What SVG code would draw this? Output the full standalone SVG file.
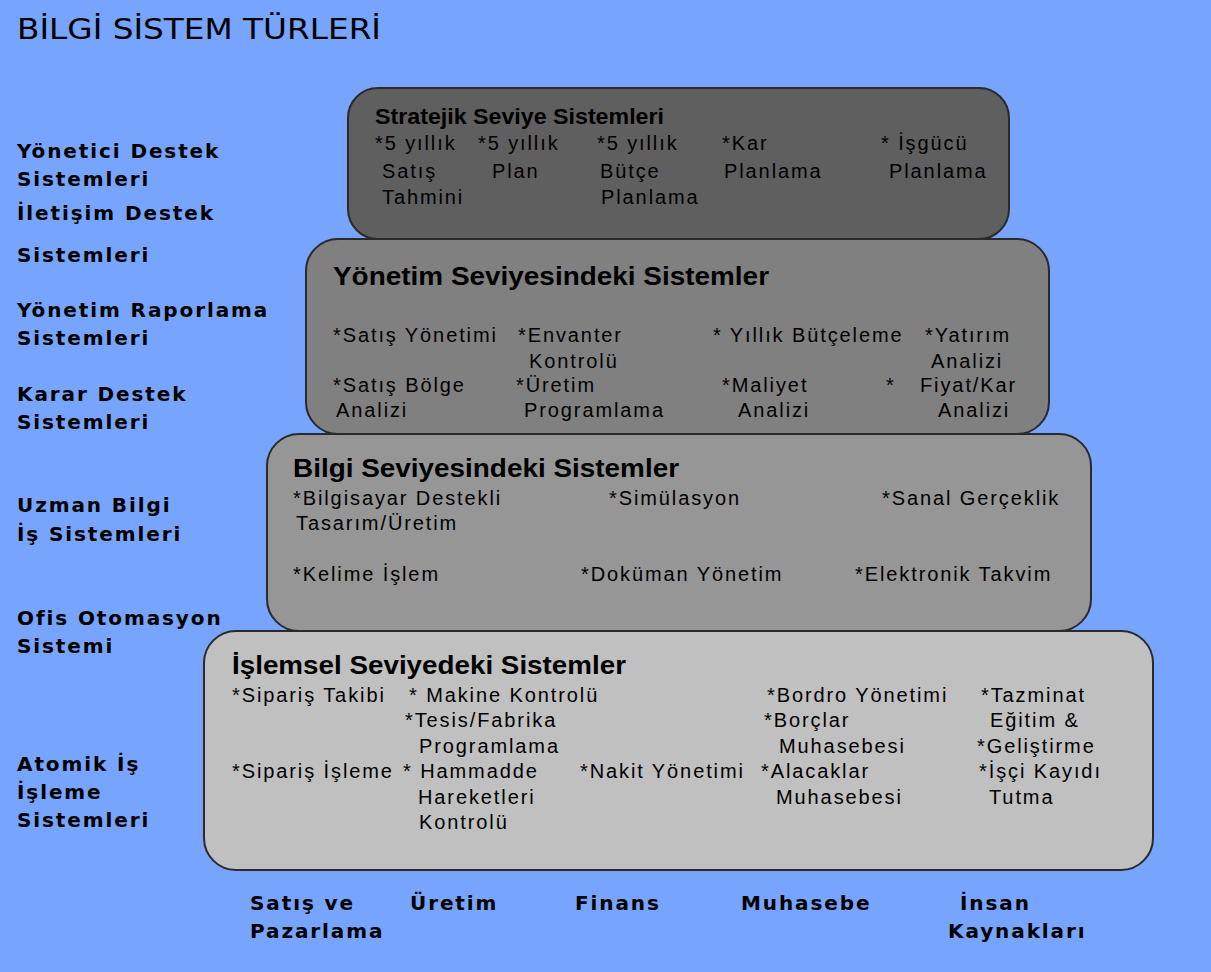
<svg xmlns="http://www.w3.org/2000/svg" width="1211" height="972" viewBox="0 0 1211 972">
  <style>
    .bg { fill: #77a4fc; }
    .tier { stroke: #2a2a2a; stroke-width: 2; }
    .title { font-family: "DejaVu Sans", Verdana, sans-serif; font-size: 28px; fill: #000; }
    .side { font-family: "DejaVu Sans", Verdana, sans-serif; font-weight: bold; font-size: 20px; letter-spacing: 1.9px; fill: #000; }
    .head { font-family: "Liberation Sans", Arial, sans-serif; font-weight: bold; fill: #000; }
    .item { font-family: "Liberation Sans", Arial, sans-serif; font-size: 20px; letter-spacing: 1.9px; fill: #000; }
  </style>

  <rect class="bg" x="0" y="0" width="1211" height="972"/>

  <text class="title" x="17" y="39" textLength="364" lengthAdjust="spacingAndGlyphs">BİLGİ SİSTEM TÜRLERİ</text>

  <!-- system types along the left side -->
  <g id="side-labels">
    <text class="side" x="17" y="158">Yönetici Destek</text>
    <text class="side" x="17" y="186">Sistemleri</text>
    <text class="side" x="17" y="220">İletişim Destek</text>
    <text class="side" x="17" y="262">Sistemleri</text>
    <text class="side" x="17" y="317">Yönetim Raporlama</text>
    <text class="side" x="17" y="345">Sistemleri</text>
    <text class="side" x="17" y="401">Karar Destek</text>
    <text class="side" x="17" y="429">Sistemleri</text>
    <text class="side" x="17" y="512">Uzman Bilgi</text>
    <text class="side" x="17" y="541">İş Sistemleri</text>
    <text class="side" x="17" y="625">Ofis Otomasyon</text>
    <text class="side" x="17" y="653">Sistemi</text>
    <text class="side" x="17" y="771">Atomik İş</text>
    <text class="side" x="17" y="799">İşleme</text>
    <text class="side" x="17" y="827">Sistemleri</text>
  </g>

  <!-- operational tier -->
  <g id="islemsel">
    <rect class="tier" x="204" y="631" width="949" height="239" rx="32" fill="#c0c0c0"/>
    <text class="head" x="232" y="674" font-size="26" textLength="394" lengthAdjust="spacingAndGlyphs">İşlemsel Seviyedeki Sistemler</text>
    <text class="item" x="232" y="702">*Sipariş Takibi</text>
    <text class="item" x="409" y="702">* Makine Kontrolü</text>
    <text class="item" x="767" y="702">*Bordro Yönetimi</text>
    <text class="item" x="981" y="702">*Tazminat</text>
    <text class="item" x="405" y="727">*Tesis/Fabrika</text>
    <text class="item" x="764" y="727">*Borçlar</text>
    <text class="item" x="990" y="727">Eğitim &amp;</text>
    <text class="item" x="419" y="753">Programlama</text>
    <text class="item" x="779" y="753">Muhasebesi</text>
    <text class="item" x="977" y="753">*Geliştirme</text>
    <text class="item" x="232" y="778">*Sipariş İşleme</text>
    <text class="item" x="403" y="778">* Hammadde</text>
    <text class="item" x="580" y="778">*Nakit Yönetimi</text>
    <text class="item" x="761" y="778">*Alacaklar</text>
    <text class="item" x="979" y="778">*İşçi Kayıdı</text>
    <text class="item" x="418" y="804">Hareketleri</text>
    <text class="item" x="776" y="804">Muhasebesi</text>
    <text class="item" x="989" y="804">Tutma</text>
    <text class="item" x="419" y="829">Kontrolü</text>
  </g>

  <!-- knowledge tier -->
  <g id="bilgi">
    <rect class="tier" x="267" y="434" width="824" height="197" rx="32" fill="#969696"/>
    <text class="head" x="293" y="477" font-size="26" textLength="386" lengthAdjust="spacingAndGlyphs">Bilgi Seviyesindeki Sistemler</text>
    <text class="item" x="293" y="505">*Bilgisayar Destekli</text>
    <text class="item" x="609" y="505">*Simülasyon</text>
    <text class="item" x="882" y="505">*Sanal Gerçeklik</text>
    <text class="item" x="296" y="530">Tasarım/Üretim</text>
    <text class="item" x="293" y="581">*Kelime İşlem</text>
    <text class="item" x="581" y="581">*Doküman Yönetim</text>
    <text class="item" x="855" y="581">*Elektronik Takvim</text>
  </g>

  <!-- management tier -->
  <g id="yonetim">
    <rect class="tier" x="306" y="239" width="743" height="195" rx="32" fill="#808080"/>
    <text class="head" x="333" y="285" font-size="26" textLength="436" lengthAdjust="spacingAndGlyphs">Yönetim Seviyesindeki Sistemler</text>
    <text class="item" x="333" y="342">*Satış Yönetimi</text>
    <text class="item" x="518" y="342">*Envanter</text>
    <text class="item" x="713" y="342">* Yıllık Bütçeleme</text>
    <text class="item" x="925" y="342">*Yatırım</text>
    <text class="item" x="529" y="368">Kontrolü</text>
    <text class="item" x="931" y="368">Analizi</text>
    <text class="item" x="333" y="392">*Satış Bölge</text>
    <text class="item" x="516" y="392">*Üretim</text>
    <text class="item" x="722" y="392">*Maliyet</text>
    <text class="item" x="886" y="392">*</text>
    <text class="item" x="920" y="392">Fiyat/Kar</text>
    <text class="item" x="336" y="417">Analizi</text>
    <text class="item" x="524" y="417">Programlama</text>
    <text class="item" x="738" y="417">Analizi</text>
    <text class="item" x="938" y="417">Analizi</text>
  </g>

  <!-- strategic tier -->
  <g id="stratejik">
    <rect class="tier" x="348" y="88" width="661" height="151" rx="30" fill="#5f5f5f"/>
    <text class="head" x="375" y="124" font-size="22" textLength="289" lengthAdjust="spacingAndGlyphs">Stratejik Seviye Sistemleri</text>
    <text class="item" x="375" y="150">*5 yıllık</text>
    <text class="item" x="478" y="150">*5 yıllık</text>
    <text class="item" x="597" y="150">*5 yıllık</text>
    <text class="item" x="722" y="150">*Kar</text>
    <text class="item" x="881" y="150">* İşgücü</text>
    <text class="item" x="382" y="178">Satış</text>
    <text class="item" x="492" y="178">Plan</text>
    <text class="item" x="600" y="178">Bütçe</text>
    <text class="item" x="724" y="178">Planlama</text>
    <text class="item" x="889" y="178">Planlama</text>
    <text class="item" x="382" y="204">Tahmini</text>
    <text class="item" x="601" y="204">Planlama</text>
  </g>

  <!-- functional areas along the bottom -->
  <g id="bottom-labels">
    <text class="side" x="250" y="910">Satış ve</text>
    <text class="side" x="250" y="938">Pazarlama</text>
    <text class="side" x="410" y="910">Üretim</text>
    <text class="side" x="575" y="910">Finans</text>
    <text class="side" x="741" y="910">Muhasebe</text>
    <text class="side" x="960" y="910">İnsan</text>
    <text class="side" x="948" y="938">Kaynakları</text>
  </g>
</svg>
